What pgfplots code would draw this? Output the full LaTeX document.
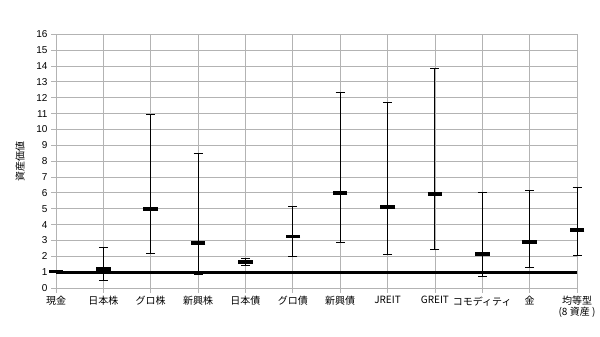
\documentclass[border=0pt]{standalone}
\usepackage{fontspec}
\setmainfont{Liberation Sans}
\newfontfamily\cjk{Noto Sans CJK JP}
\usepackage{pgfplots}
\usepackage{pgfplotstable}
\pgfplotsset{compat=1.18}
\definecolor{gridgray}{HTML}{B3B3B3}

% mean value with lower / upper range for each asset class
\pgfplotstableread{
x  mean  lo    hi
0  1.05  1.05  1.05
1  1.18  0.50  2.57
2  4.98  2.19  10.95
3  2.86  0.88  8.49
4  1.66  1.43  1.85
5  3.24  2.00  5.15
6  6.01  2.90  12.34
7  5.09  2.12  11.71
8  5.91  2.44  13.85
9  2.16  0.76  6.03
10 2.92  1.30  6.16
11 3.64  2.06  6.35
}\assets

\begin{document}
\begin{tikzpicture}
\begin{axis}[
  name=ax,
  scale only axis,
  width=521bp, height=253.7bp,
  xmin=0, xmax=11, ymin=0, ymax=16,
  xtick={0,...,11},
  xticklabels={現金,日本株,グロ株,新興株,日本債,グロ債,新興債,JREIT,GREIT,コモディティ,金,{均等型\\(8 資産 )}},
  ytick={0,...,16},
  grid=major,
  grid style={gridgray, line width=0.8bp},
  axis line style={gridgray, line width=0.8bp},
  tick style={gridgray, line width=0.8bp},
  tick align=outside,
  tick pos=left,
  major tick length=5bp,
  xticklabel style={font=\cjk\fontsize{10bp}{11bp}\selectfont, align=center, text=black},
  yticklabel style={font=\fontsize{10bp}{12bp}\selectfont, text=black},
  /pgf/number format/assume math mode=true,
  ylabel={資産価値},
  ylabel style={font=\cjk\fontsize{10bp}{11bp}\selectfont, at={(axis description cs:-0.069,0.5)}, anchor=center},
  clip=false,
]
\addplot[black, line width=3bp] coordinates {(0,1) (11,1)};
\addplot[
  black, only marks, mark=-,
  mark size=7.3bp,
  mark options={line width=3.7bp},
  error bars/.cd,
    y dir=both, y explicit,
    error bar style={line width=0.9bp, black},
    error mark options={line width=0.9bp, black, mark size=4.5bp, rotate=90},
] table[
  x=x, y=mean,
  y error plus expr=\thisrow{hi}-\thisrow{mean},
  y error minus expr=\thisrow{mean}-\thisrow{lo},
] {\assets};
\end{axis}
\pgfresetboundingbox
\path[use as bounding box] (ax.south west) ++(-56bp,-49bp) rectangle ++(600bp,337bp);
\end{tikzpicture}
\end{document}
